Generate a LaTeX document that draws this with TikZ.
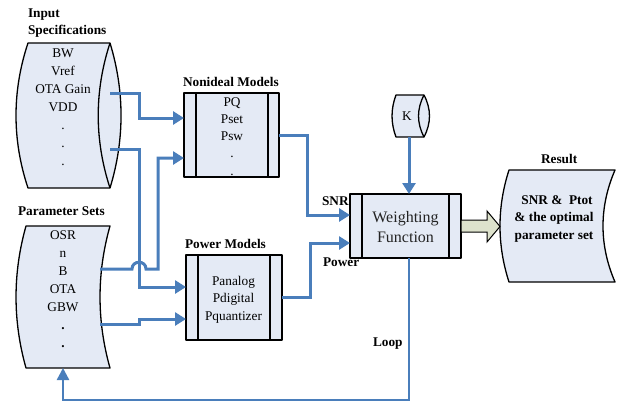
\documentclass[tikz,border=0pt]{standalone}
\usepackage{fontspec}
\setmainfont{Liberation Serif}
\usetikzlibrary{arrows.meta,calc}
\definecolor{conblue}{RGB}{74,126,187}
\definecolor{shapefill}{RGB}{228,234,245}
\definecolor{fatfill}{RGB}{221,226,204}
\definecolor{wtext}{RGB}{35,35,35}
\begin{document}
\begin{tikzpicture}[x=1pt,y=-1pt,
  every node/.style={inner sep=0pt, outer sep=0pt, font=\fontsize{13.3}{16}\selectfont},
  txt/.style={anchor=base},
  ttl/.style={anchor=base west, font=\fontsize{13.3}{16}\selectfont\bfseries},
  shp/.style={draw=black, line width=1.3pt, fill=shapefill, line join=round},
  sep/.style={draw=black, line width=1.3pt},
  conn/.style={draw=conblue, line width=3pt},
  arr/.style={conn, -{Triangle[length=11pt,width=13pt]}},
  looparr/.style={draw=conblue, line width=2.4pt, -{Triangle[length=12pt,width=12pt]}}]
\useasboundingbox (0,0) rectangle (628,405);

% ---- Input specifications (horizontal cylinder)
\path[shp] (28,43) -- (110,43) .. controls (124.7,91) and (124.7,140) .. (110,188)
  -- (28,188) .. controls (12,140) and (12,91) .. (28,43) -- cycle;
\draw[sep, line join=round] (110,43) .. controls (94.3,91) and (94.3,140) .. (110,188);
\coordinate (isA) at (110,93);
\coordinate (isB) at (110,149);

% ---- Parameter sets
\path[shp] (26,226) -- (110,226) .. controls (96.7,273) and (96.7,321) .. (110,368)
  -- (26,368) .. controls (12.7,321) and (12.7,273) .. (26,226) -- cycle;
\coordinate (psA) at (100,269);
\coordinate (psB) at (100,324);
\coordinate (psbot) at (63,368);

% ---- K cylinder
\path[shp] (396,95) -- (424,95) .. controls (431.3,109) and (431.3,123) .. (424,137)
  -- (396,137) .. controls (390.7,123) and (390.7,109) .. (396,95) -- cycle;
\draw[sep] (424,95) .. controls (416.7,109) and (416.7,123) .. (424,137);
\coordinate (kbot) at (409,137);
\node[txt] (k) at (407,120.3) {K};

% ---- Result shape
\path[shp] (509,170) -- (615,170) .. controls (599,207) and (599,245) .. (615,282)
  -- (509,282) .. controls (497,245) and (497,207) .. (509,170) -- cycle;

% ---- Boxes
\node[shp, minimum width=95pt, minimum height=84pt] (nonideal) at (231.5,135) {};
\draw[sep] ($(nonideal.north west)+(12,0)$) -- ($(nonideal.south west)+(12,0)$);
\draw[sep] ($(nonideal.north east)+(-11,0)$) -- ($(nonideal.south east)+(-11,0)$);

\node[shp, minimum width=96pt, minimum height=85pt] (power) at (234,297.5) {};
\draw[sep] ($(power.north west)+(12,0)$) -- ($(power.south west)+(12,0)$);
\draw[sep] ($(power.north east)+(-12,0)$) -- ($(power.south east)+(-12,0)$);

\node[shp, minimum width=111pt, minimum height=64pt] (weight) at (405.5,226) {};
\draw[sep] ($(weight.north west)+(12,0)$) -- ($(weight.south west)+(12,0)$);
\draw[sep] ($(weight.north east)+(-12,0)$) -- ($(weight.south east)+(-12,0)$);

% ---- Fat arrow to result
\draw[line width=1pt, fill=fatfill, line join=miter] ($(weight.east)+(0,-6)$) -- (487,220) -- (487,211)
  -- (500,226.5) -- (487,242) -- (487,232) -- ($(weight.east)+(0,6)$) -- cycle;

% ---- Connectors
\draw[arr] (isA) -- (139,93) -- (139,118) -- ($(nonideal.west)+(0,-17)$);
\draw[arr] (isB) -- (139,149) -- (139,287) -- ($(power.west)+(0,-10.5)$);
\draw[arr] (psA) -- (132,269) .. controls (132,260) and (146,260) .. (146,269)
  -- (158,269) -- (158,158) -- ($(nonideal.west)+(0,23)$);
\draw[arr] (psB) -- (139,324) -- (139,319) -- ($(power.west)+(0,21.5)$);
\draw[arr] (nonideal.east) -- (307,135) -- (307,215) -- ($(weight.west)+(0,-11)$);
\draw[arr] ($(power.east)+(0,-0.5)$) -- (310,297) -- (310,243) -- ($(weight.west)+(0,17)$);
\draw[arr] (kbot) -- ($(weight.north)+(3.5,0)$);
\draw[looparr] ($(weight.south)+(3.5,0)$) -- (409,400) -- (63,400) -- (psbot);

% ---- Texts
\foreach \t [count=\i from 0] in {BW,Vref,OTA Gain,VDD,.,.,.}
  \node[txt] (is\i) at (63,{57+18*\i}) {\t};
\foreach \t [count=\i from 0] in {OSR,n,B,OTA,GBW,\textbf{.},\textbf{.}}
  \node[txt] (ps\i) at (63,{239+18*\i}) {\t};
\foreach \t [count=\i from 0] in {PQ,Pset,Psw,.,.}
  \node[txt] (nm\i) at (232,{106+17.3*\i}) {\t};
\foreach \t [count=\i from 0] in {Panalog,Pdigital,Pquantizer}
  \node[txt] (pm\i) at (233.5,{285+17.5*\i}) {\t};

\node[txt, font=\fontsize{16}{19}\selectfont, text=wtext] (w1) at (405.5,222) {Weighting};
\node[txt, font=\fontsize{16}{19}\selectfont, text=wtext] (w2) at (405.5,242.5) {Function};

\node[txt, font=\fontsize{13.3}{16}\selectfont\bfseries] (r1) at (557,204) {SNR \&\ \ Ptot};
\node[txt, font=\fontsize{13.3}{16}\selectfont\bfseries] (r2) at (554,221.5) {\& the optimal};
\node[txt, font=\fontsize{13.3}{16}\selectfont\bfseries] (r3) at (554,239) {parameter set};

% ---- Titles and labels
\node[ttl] (t1) at (28,17) {Input};
\node[ttl] (t2) at (28,34.5) {Specifications};
\node[ttl] (t3) at (183,86) {Nonideal Models};
\node[ttl] (t4) at (18,215) {Parameter Sets};
\node[ttl] (t5) at (185,248) {Power Models};
\node[ttl] (t6) at (541,163) {Result};
\node[ttl] (l1) at (322,205) {SNR};
\node[ttl] (l2) at (323,266.5) {Power};
\node[ttl] (l3) at (373,346) {Loop};
\end{tikzpicture}
\end{document}
